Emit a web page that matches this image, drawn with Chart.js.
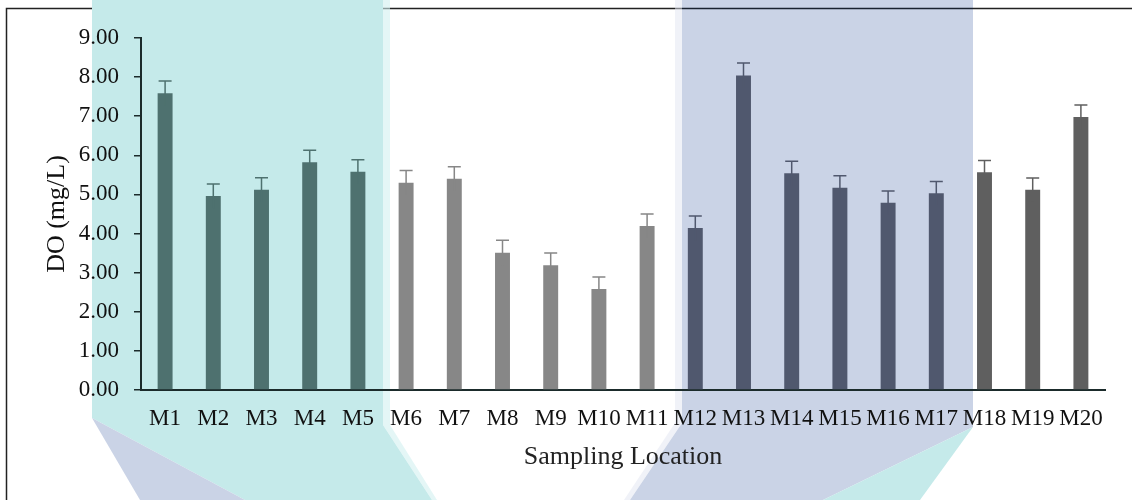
<!DOCTYPE html>
<html>
<head>
<meta charset="utf-8">
<script src="https://cdn.jsdelivr.net/npm/chart.js@4/dist/chart.umd.min.js"></script>
<style>
  html, body { margin: 0; padding: 0; background: #fff; }
  #wrap { width: 1132px; height: 500px; position: relative; }
</style>
</head>
<body>
<div id="wrap"><canvas id="grafico"></canvas></div>
<script>
// dados
const locais = ["M1","M2","M3","M4","M5","M6","M7","M8","M9","M10",
                "M11","M12","M13","M14","M15","M16","M17","M18","M19","M20"];
const valoresDO = [7.59, 4.96, 5.12, 5.82, 5.58, 5.30, 5.40, 3.51, 3.19, 2.58,
                   4.19, 4.14, 8.04, 5.54, 5.17, 4.79, 5.03, 5.57, 5.12, 6.98];
const errosDO = [0.31, 0.31, 0.31, 0.31, 0.31, 0.31, 0.31, 0.32, 0.31, 0.31,
                 0.31, 0.31, 0.32, 0.31, 0.31, 0.30, 0.30, 0.30, 0.30, 0.31];
const ticksY = [0, 1, 2, 3, 4, 5, 6, 7, 8, 9];

// cores por grupo (a marca d'água tinge as barras)
function corBarra(i) {
    if (i < 5) return "#4e716f";
    if (i < 11) return "#878787";
    if (i < 17) return "#50586e";
    return "#5f5f5f";
}
const fonteSerif = "'Liberation Serif', 'Times New Roman', serif";

// fundo: moldura + faixas da marca d'água
const marcaDagua = {
    id: "marcaDagua",
    beforeDraw(chart) {
        const ctx = chart.ctx;
        const poly = (pts, cor) => {
            ctx.fillStyle = cor;
            ctx.beginPath();
            ctx.moveTo(pts[0][0], pts[0][1]);
            pts.slice(1).forEach(p => ctx.lineTo(p[0], p[1]));
            ctx.closePath();
            ctx.fill();
        };
        ctx.save();
        // moldura (a faixa verde cobre a linha de cima)
        ctx.strokeStyle = "#222";
        ctx.lineWidth = 1.5;
        ctx.beginPath();
        ctx.moveTo(6.5, 500);
        ctx.lineTo(6.5, 8.5);
        ctx.lineTo(1132, 8.5);
        ctx.stroke();
        poly([[383, 0], [390, 0], [390, 425], [437, 500], [432, 500], [383, 425]], "rgba(210,240,240,0.6)");
        poly([[92, 0], [383, 0], [383, 425], [432, 500], [245, 500], [92, 418]], "#c5eaea");
        poly([[92, 418], [245, 500], [140, 500]], "#cad3e6");
        poly([[675, 0], [682, 0], [682, 423], [630, 500], [624, 500], [675, 423]], "rgba(225,230,242,0.5)");
        poly([[682, 0], [973, 0], [973, 427], [823, 500], [630, 500], [682, 423]], "#cad3e6");
        poly([[973, 427], [920, 500], [823, 500]], "#c5eaea");
        // linha de cima visível sobre a faixa azul
        ctx.strokeStyle = "#1a2230";
        ctx.beginPath();
        ctx.moveTo(682, 8.5);
        ctx.lineTo(973, 8.5);
        ctx.stroke();
        ctx.restore();
    }
};

// barras de erro
const barrasErro = {
    id: "barrasErro",
    afterDatasetsDraw(chart) {
        const ctx = chart.ctx;
        const meta = chart.getDatasetMeta(0);
        const y = chart.scales.y;
        ctx.save();
        ctx.lineWidth = 1.5;
        meta.data.forEach((bar, i) => {
            const topo = y.getPixelForValue(valoresDO[i] + errosDO[i]);
            const base = y.getPixelForValue(valoresDO[i] - errosDO[i]);
            ctx.strokeStyle = corBarra(i);
            ctx.beginPath();
            ctx.moveTo(bar.x, base);
            ctx.lineTo(bar.x, topo);
            ctx.moveTo(bar.x - 6.5, topo);
            ctx.lineTo(bar.x + 6.5, topo);
            ctx.stroke();
        });
        ctx.restore();
    }
};

new Chart(document.getElementById("grafico"), {
    type: "bar",
    data: {
        labels: locais,
        datasets: [{
            data: valoresDO,
            backgroundColor: locais.map((_, i) => corBarra(i)),
            barPercentage: 0.31,
            categoryPercentage: 1
        }]
    },
    options: {
        responsive: true,
        maintainAspectRatio: false,
        animation: false,
        layout: { padding: { left: 0, right: 27, top: 38, bottom: 0 } },
        plugins: { legend: { display: false }, tooltip: { enabled: false } },
        scales: {
            x: {
                grid: { display: false, drawTicks: false },
                border: { display: true, color: "#1b2b2b", width: 2 },
                ticks: { color: "#111", font: { family: fonteSerif, size: 23 }, padding: 15, maxRotation: 0, autoSkip: false },
                title: { display: true, text: "Sampling Location", color: "#222",
                         font: { family: fonteSerif, size: 26 }, padding: { top: 0, bottom: 27 } },
                afterFit: s => { s.height = 110; }
            },
            y: {
                min: 0, max: 9,
                afterBuildTicks: s => { s.ticks = ticksY.map(v => ({ value: v })); },
                grid: { drawOnChartArea: false, drawTicks: true, tickLength: 7, color: "#1b2b2b", lineWidth: 1.5 },
                border: { display: true, color: "#1b2b2b", width: 2 },
                ticks: { color: "#111", font: { family: fonteSerif, size: 23 }, padding: 15,
                         callback: v => v.toFixed(2) },
                title: { display: true, text: "DO (mg/L)", color: "#111",
                         font: { family: fonteSerif, size: 26 }, padding: { top: 42, bottom: 0 } },
                afterFit: s => { s.width = 141; }
            }
        }
    },
    plugins: [marcaDagua, barrasErro]
});
</script>
</body>
</html>
